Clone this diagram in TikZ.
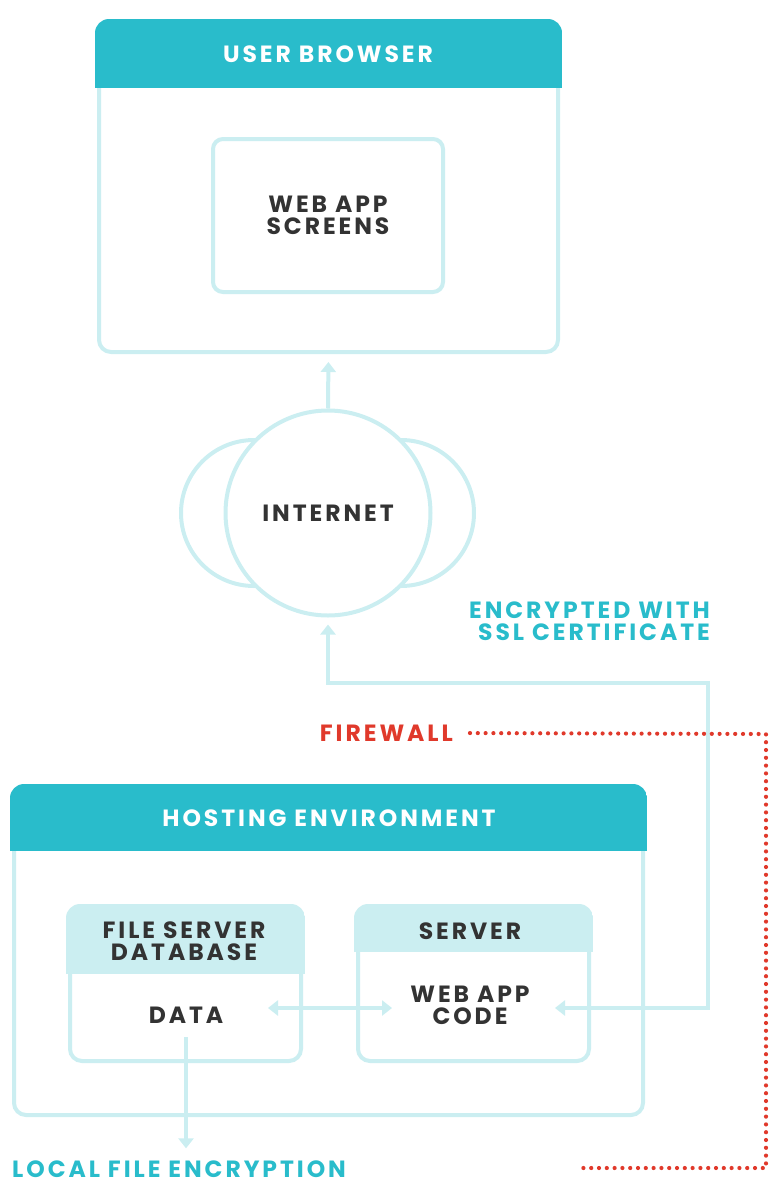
\documentclass[tikz,border=0pt]{standalone}
\usepackage{fontspec}
\usetikzlibrary{arrows.meta}
\setmainfont{Poppins}
\newfontfamily\capsfont{Poppins}[LetterSpace=12.5]
\definecolor{hdteal}{HTML}{29BCCB}
\definecolor{paleteal}{HTML}{CBEEF1}
\definecolor{inkgrey}{HTML}{333333}
\definecolor{fwred}{HTML}{E0392B}

% header band of a box, clipped to its rounded outline
\newcommand\headband[3]{%
  \begin{scope}
    \clip[rounded corners=14pt] ([shift={(-2,-2)}]#1.north west) rectangle ([shift={(2,2)}]#1.south east);
    \fill[#3] ([shift={(-2,-2)}]#1.north west) rectangle ([shift={(2,#2)}]#1.north east);
  \end{scope}}

\begin{document}
\begin{tikzpicture}[x=1pt,y=-1pt,
  panel/.style={draw=paleteal,line width=4pt,rounded corners=12pt,inner sep=0,fill=white},
  label/.style={font=\capsfont\bfseries\fontsize{23.5}{22}\selectfont,text=inkgrey,align=center,inner sep=0},
  title/.style={label,text=white},
  note/.style={label,text=hdteal},
  conn/.style={draw=paleteal,line width=4pt},
  tip/.style={-{Triangle[width=15pt,length=10pt]}},
  fwline/.style={draw=fwred,line width=4.2pt,line cap=round,dash pattern=on 0pt off 7.8pt}]
\useasboundingbox (0,0) rectangle (780,1200);

% user browser
\node[panel,minimum width=459pt,minimum height=329pt] (browser) at (328.5,187.5) {};
\headband{browser}{67}{hdteal}
\node[title] (browsertitle) at (328,54) {USER BROWSER};
\node[panel,label,rounded corners=10pt,minimum width=230pt,minimum height=153pt] (screens) at (328,215.5) {WEB APP\\SCREENS};

% internet
\node[circle,draw=paleteal,line width=4pt,minimum size=146pt] (netleft) at (254,513) {};
\node[circle,draw=paleteal,line width=4pt,minimum size=146pt] (netright) at (401,513) {};
\node[circle,draw=paleteal,line width=4pt,fill=white,minimum size=205pt,label] (net) at (328,513) {INTERNET};
\draw[conn,tip,shorten >=8pt] (net.north) -- (browser.south);

\node[note,align=right,anchor=east] (ssl) at (710,621) {ENCRYPTED WITH\\SSL CERTIFICATE};
\node[label,text=fwred,anchor=east] (firewall) at (453,733) {FIREWALL};

% hosting environment
\node[panel,minimum width=629pt,minimum height=327pt] (hosting) at (328.5,951.5) {};
\headband{hosting}{65}{hdteal}
\node[title] (hostingtitle) at (329,818) {HOSTING ENVIRONMENT};

\node[panel,minimum width=231pt,minimum height=153pt] (fileserver) at (185.5,984.5) {};
\headband{fileserver}{68}{paleteal}
\node[label] (filetitle) at (184,941) {FILE SERVER\\DATABASE};
\node[label] (data) at (186,1015) {DATA};

\node[panel,minimum width=231pt,minimum height=153pt] (server) at (473.5,984.5) {};
\headband{server}{46}{paleteal}
\node[label] (servertitle) at (470,931) {SERVER};
\node[label] (code) at (470,1005) {WEB APP\\CODE};

\node[note,anchor=west] (localenc) at (12,1169) {LOCAL FILE ENCRYPTION};

% connectors
\coordinate (dataport) at (268,1008);
\coordinate (codeport) at (392,1008);
\coordinate (codein) at (555,1008);
\coordinate (sslbend) at (708,683);
\draw[conn,{Triangle[width=15pt,length=10pt]}-{Triangle[width=15pt,length=10pt]}] (dataport) -- (codeport);
\draw[conn,{Triangle[width=15pt,length=10pt]}-{Triangle[width=15pt,length=10pt]},shorten >=7pt] (codein) -| (sslbend) -| (net.south);
\draw[conn,tip,shorten <=14pt,shorten >=12pt] (data.south) -- (data.south |- localenc.north);

% firewall
\coordinate (fwtop) at (766,734);
\coordinate (fwbottom) at (766,1168);
\coordinate (fwend) at (582,1168);
\draw[fwline,shorten <=17pt] (firewall.east) -- (fwtop) -- (fwbottom) -- (fwend);
\end{tikzpicture}
\end{document}
